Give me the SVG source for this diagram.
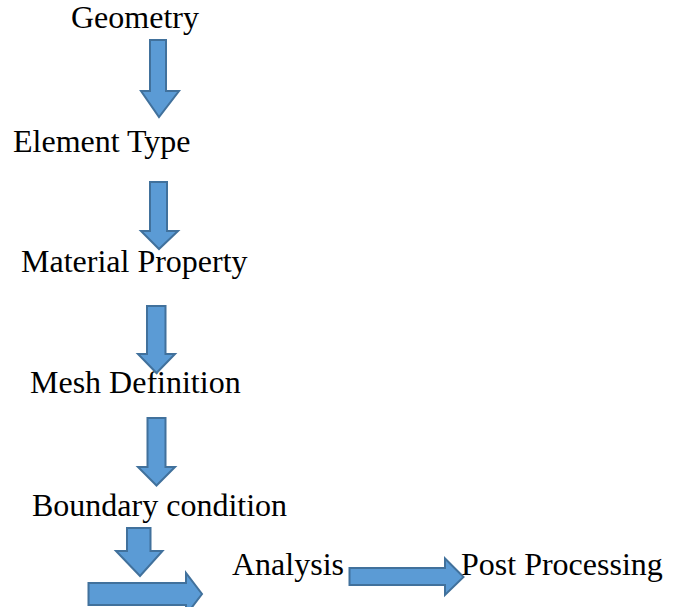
<svg xmlns="http://www.w3.org/2000/svg" width="674" height="607" viewBox="0 0 674 607">
<style>
.t{font-family:"Liberation Serif","Times New Roman",serif;font-size:32px;fill:#000}
.a{fill:#5B9BD5;stroke:#41719C;stroke-width:2;stroke-linejoin:miter}
</style>
<rect width="674" height="607" fill="#fff"/>
<g id="geometry"><text class="t" x="71" y="28">Geometry</text></g>
<g id="element-type"><text class="t" x="13" y="152">Element Type</text></g>
<g id="material-property"><text class="t" x="21" y="272">Material Property</text></g>
<g id="mesh-definition"><text class="t" x="30" y="393">Mesh Definition</text></g>
<g id="boundary-condition"><text class="t" x="32" y="516">Boundary condition</text></g>
<g id="analysis"><text class="t" x="232" y="575">Analysis</text></g>
<g id="post-processing"><text class="t" x="461" y="575">Post Processing</text></g>
<g id="connectors">
<polygon class="a" points="150,40 166,40 166,91 179,91 159,117 141,91 150,91"/>
<polygon class="a" points="150,182 167,182 167,231 178,231 159,249 141,231 150,231"/>
<polygon class="a" points="147,306 165.5,306 165.5,354 175,354 156.5,373 138,354 147,354"/>
<polygon class="a" points="147.5,418 165.5,418 165.5,467 175,467 156.5,485.5 138,467 147.5,467"/>
<polygon class="a" points="127,528 150.5,528 150.5,551 162.5,551 140,576 116,551 127,551"/>
<polygon class="a" points="88.5,583 186,583 186,573 202,594 186,615 186,605 88.5,605"/>
<polygon class="a" points="349.5,568 445,568 445,558.5 463.5,577 445,595 445,585 349.5,585"/>
</g>
</svg>
